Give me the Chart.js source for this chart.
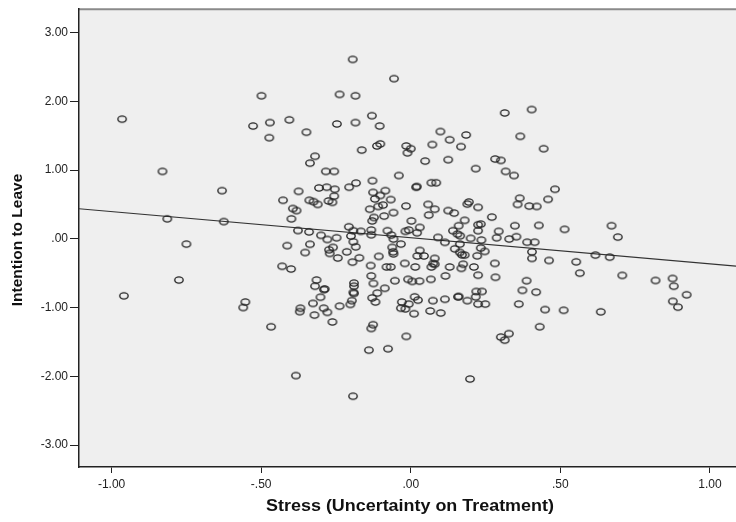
<!DOCTYPE html>
<html><head><meta charset="utf-8">
<script src="https://cdn.jsdelivr.net/npm/chart.js@4.4.0/dist/chart.umd.min.js"></script>
<style>html,body{margin:0;padding:0;background:#fff}#wrap{width:736px;height:522px;position:relative}</style>
</head><body><div id="wrap"><canvas id="c" width="736" height="522"></canvas></div>
<script>
// Stress (Uncertainty on Treatment) values
const stress = [
-0.965,-0.830,-0.194,-0.499,-0.238,-0.185,-0.130,-0.527,-0.471,-0.406,-0.473,-0.349,-0.247,-0.185,-0.164,-0.320,-0.337,-0.284,-0.256,
-0.056,-0.104,-0.113,-0.102,-0.015,0.000,-0.011,0.072,0.099,0.130,0.185,0.168,0.048,0.125,0.314,0.404,0.366,0.444,0.282,0.301,0.217,0.317,-0.040,0.345,
-0.814,-0.750,-0.775,-0.959,
-0.631,-0.625,-0.553,-0.560,-0.467,-0.427,-0.375,-0.307,-0.281,-0.254,-0.256,-0.275,-0.262,-0.339,-0.325,-0.311,-0.394,-0.382,-0.399,-0.206,-0.183,
-0.377,-0.340,-0.300,-0.279,-0.248,-0.207,-0.192,-0.167,-0.200,-0.192,-0.184,-0.413,-0.337,-0.353,-0.273,-0.260,-0.271,-0.244,-0.214,-0.172,-0.195,
-0.430,-0.400,-0.315,-0.320,-0.290,-0.288,-0.302,-0.327,-0.369,-0.371,-0.322,-0.291,-0.279,-0.262,-0.238,-0.190,-0.190,-0.192,-0.190,-0.197,-0.202,
-0.128,0.018,0.020,0.069,0.085,-0.126,-0.102,-0.085,-0.120,-0.067,-0.093,-0.109,-0.137,-0.016,0.058,0.080,0.060,0.125,0.145,0.189,0.194,0.225,0.271,
0.364,0.357,0.396,0.421,0.459,0.428,0.348,0.294,0.287,0.353,0.329,0.389,0.414,0.405,0.405,0.462,
-0.129,-0.123,-0.089,-0.058,0.002,0.030,-0.018,-0.007,0.021,-0.132,-0.132,-0.078,-0.065,-0.033,-0.058,-0.062,-0.107,-0.059,-0.058,
0.030,0.022,0.044,0.080,0.075,0.069,0.080,0.091,0.114,0.141,0.160,0.156,0.165,0.180,0.164,0.147,0.164,0.180,0.171,
0.225,0.234,0.225,0.236,0.234,0.247,0.222,0.200,0.130,0.116,0.175,0.169,0.211,0.225,0.281,0.283,
-0.020,0.015,-0.081,-0.067,-0.134,-0.132,-0.125,-0.053,-0.009,0.005,0.029,0.067,-0.087,-0.112,-0.129,-0.118,
-0.030,-0.007,-0.033,-0.018,0.011,0.013,0.024,0.074,0.114,0.065,0.100,0.158,0.160,0.189,0.219,0.238,0.217,0.225,0.249,
0.387,0.373,0.419,0.361,0.449,0.431,0.301,0.314,0.328,-0.015,-0.132,-0.126,-0.076,
0.482,0.514,0.671,0.692,0.617,0.665,0.553,0.565,0.707,0.818,0.875,0.879,0.922,0.876,0.893,0.511,0.635,
-0.384,-0.193,-0.140,0.198
];
// Intention to Leave values
const leave = [
1.74,0.98,2.61,2.08,2.10,2.08,1.79,1.64,1.69,1.73,1.47,1.55,1.67,1.69,1.29,1.20,1.10,0.98,0.98,
2.33,1.64,1.35,1.38,1.35,1.31,1.25,1.37,1.56,1.44,1.51,1.34,1.13,1.15,1.83,1.88,1.49,1.31,1.16,1.14,1.02,0.98,0.92,0.92,
0.29,-0.077,-0.60,-0.83,
0.70,0.25,-0.92,-1.00,-1.28,0.56,0.69,0.74,0.75,0.72,0.62,0.55,0.53,0.56,0.54,0.50,0.44,0.41,0.29,0.75,0.81,
0.12,0.10,0.05,-0.01,0.015,0.175,0.117,0.108,0.04,-0.044,-0.117,-0.10,-0.08,-0.20,-0.16,-0.125,-0.213,-0.28,-0.19,-0.277,-0.34,
-0.40,-0.44,-0.60,-0.69,-0.74,-0.73,-0.85,-0.94,-1.01,-1.06,-1.11,-1.01,-1.07,-1.21,-0.98,-0.645,-0.69,-0.78,-0.795,-0.90,-0.955,
0.845,0.75,0.76,0.815,0.815,0.675,0.63,0.70,0.58,0.57,0.49,0.47,0.43,0.476,0.50,0.43,0.345,0.41,0.374,0.505,0.535,0.457,0.316,
0.59,0.50,0.476,0.47,0.574,0.195,0.19,0.108,0.015,0.03,-0.004,-0.05,-0.05,-0.19,-0.285,-0.315,
0.26,0.31,0.33,0.38,0.26,0.166,0.108,0.127,0.087,0.127,0.058,0.117,0.054,-0.077,-0.004,-0.125,-0.256,-0.19,-0.22,
-0.17,-0.25,-0.25,-0.285,-0.36,-0.41,-0.37,0.02,-0.052,0.117,0.19,0.068,0.044,0.268,-0.077,-0.146,-0.198,-0.237,-0.233,
0.204,0.214,0.117,-0.019,-0.135,-0.184,-0.248,0.006,-0.41,-0.54,-0.37,-0.43,-0.41,-0.53,-0.358,-0.56,
-0.358,-0.41,-0.41,-0.41,-0.39,-0.54,-0.65,-0.61,-0.59,-0.62,-0.616,-0.59,-0.72,-0.79,-0.86,-0.92,
-0.92,-0.95,-1.01,-1.02,-1.09,-0.845,-0.893,-0.90,-0.88,-1.05,-1.08,-0.845,-0.84,-0.90,-0.766,-0.766,-0.845,-0.95,-0.95,
-0.61,-0.75,-0.776,-0.95,-1.03,-1.28,-1.43,-1.475,-1.38,-1.42,-1.305,-1.25,-1.60,
0.72,0.137,0.19,0.025,-0.237,-0.267,-0.335,-0.50,-0.533,-0.606,-0.577,-0.69,-0.815,-0.91,-0.995,-1.04,-1.063,
-1.99,-2.29,-1.62,-2.04
];
// Fit line end points
const fitX = [-1.109, 1.087];
const fitY = [0.437, -0.398];
const xTicks = [-1, -0.5, 0, 0.5, 1];
const yTicks = [-3, -2, -1, 0, 1, 2, 3];
const xTitle = 'Stress (Uncertainty on Treatment)';
const yTitle = 'Intention to Leave';

function fmt(v){
  let s = Number(v).toFixed(2);
  return s.replace(/^(-?)0\./, '$1.');
}

// elliptical open marker
const marker = document.createElement('canvas');
marker.width = 12; marker.height = 10;
(function(){
  const g = marker.getContext('2d');
  g.strokeStyle = '#222'; g.lineWidth = 1.35;
  g.beginPath(); g.ellipse(6, 5, 4.2, 3.1, 0, 0, Math.PI*2); g.stroke();
})();

const bgPlugin = {
  id: 'bg',
  beforeDraw(chart){
    const {ctx, chartArea:a} = chart;
    ctx.save();
    ctx.fillStyle = '#efefef';
    ctx.fillRect(a.left, a.top, a.right - a.left, a.bottom - a.top);
    ctx.strokeStyle = '#8a8a8a'; ctx.lineWidth = 2;
    ctx.beginPath(); ctx.moveTo(a.left, a.top); ctx.lineTo(a.right, a.top); ctx.stroke();
    ctx.restore();
  },
  afterDraw(chart){
    const {ctx} = chart;
    ctx.save();
    ctx.fillStyle = '#111';
    ctx.font = 'bold 16px "Liberation Sans", Arial, sans-serif';
    ctx.textAlign = 'center'; ctx.textBaseline = 'middle';
    ctx.save();
    ctx.translate(410, 507); ctx.scale(1.12, 1);
    ctx.fillText(xTitle, 0, 0);
    ctx.restore();
    ctx.font = 'bold 15.5px "Liberation Sans", Arial, sans-serif';
    ctx.translate(18, 240); ctx.rotate(-Math.PI/2);
    ctx.fillText(yTitle, 0, 0);
    ctx.restore();
  }
};

const pts = stress.map((x, i) => ({x: x, y: leave[i]}));

new Chart(document.getElementById('c'), {
  type: 'scatter',
  data: {
    datasets: [
      {data: fitX.map((x,i)=>({x:x, y:fitY[i]})), showLine: true, borderColor: '#333', borderWidth: 1.2, pointRadius: 0, order: 2},
      {data: pts, pointStyle: marker, pointRadius: 4, order: 1}
    ]
  },
  options: {
    responsive: false, animation: false, devicePixelRatio: 1,
    layout: {autoPadding: false, padding: {top: 9, right: 0, left: 0, bottom: 0}},
    plugins: {legend: {display: false}, tooltip: {enabled: false}},
    scales: {
      x: {
        type: 'linear', min: -1.109, max: 1.087,
        afterBuildTicks: s => { s.ticks = xTicks.map(v => ({value: v})); },
        afterFit: s => { s.height = 55; },
        ticks: {callback: fmt, color: '#222', font: {family: '"Liberation Sans", Arial, sans-serif', size: 12}, padding: 4, maxRotation: 0, autoSkip: false},
        grid: {drawOnChartArea: false, drawTicks: true, tickLength: 6, tickColor: '#222', color: '#222'},
        border: {display: true, color: '#222', width: 1.5}
      },
      y: {
        type: 'linear', min: -3.32, max: 3.34,
        afterBuildTicks: s => { s.ticks = yTicks.map(v => ({value: v})); },
        afterFit: s => { s.width = 79; },
        ticks: {callback: fmt, color: '#222', font: {family: '"Liberation Sans", Arial, sans-serif', size: 12}, padding: 2, autoSkip: false},
        grid: {drawOnChartArea: false, drawTicks: true, tickLength: 9, tickColor: '#222', color: '#222'},
        border: {display: true, color: '#222', width: 1.5}
      }
    }
  },
  plugins: [bgPlugin]
});
</script></body></html>
